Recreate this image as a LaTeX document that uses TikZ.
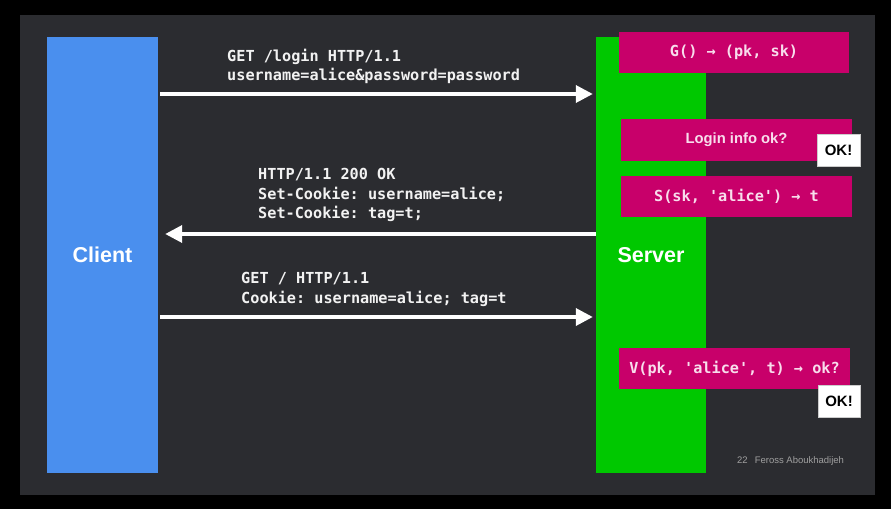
\documentclass[tikz,border=0pt]{standalone}
\usepackage{fontspec}
\setmainfont{Liberation Sans}
\newfontfamily\codefont{DejaVu Sans Mono}
\usetikzlibrary{arrows.meta}
\frenchspacing
\definecolor{slidebg}{HTML}{2B2C30}
\definecolor{clientblue}{HTML}{4A8FEE}
\definecolor{servergreen}{HTML}{00C800}
\definecolor{magbox}{HTML}{C8006A}
\definecolor{pinktext}{HTML}{F8DDEC}
\definecolor{codewhite}{HTML}{F2F2F2}
\definecolor{footgray}{HTML}{A0A0A0}
\tikzset{
  party/.style={inner sep=0pt, text=white, font=\fontsize{21.5}{24}\selectfont\bfseries},
  magstep/.style={fill=magbox, inner sep=0pt, minimum height=41pt, text=pinktext, font=\codefont\fontsize{15.2}{18}\selectfont\bfseries},
  okbox/.style={fill=white, draw=gray!40, inner sep=0pt, minimum width=43pt, minimum height=32pt, text=black, font=\fontsize{15}{18}\selectfont\bfseries},
  codeline/.style={anchor=base west, inner sep=0pt, text=codewhite, font=\codefont\fontsize{15.2}{18}\selectfont\bfseries},
  msg/.style={draw=white, line width=3.5pt, -{Triangle[length=17pt,width=17pt]}},
}
\begin{document}
\begin{tikzpicture}[x=1pt,y=-1pt]
\fill[black] (0,0) rectangle (891,509);
\useasboundingbox (0,0) rectangle (891,509);
\fill[slidebg] (20,15) rectangle (875,495);
% parties
\node[party, fill=clientblue, minimum width=111pt, minimum height=436pt] (client) at (102.5,255) {Client};
\node[party, fill=servergreen, minimum width=110pt, minimum height=436pt] (server) at (651,255) {Server};
% server steps
\node[magstep, minimum width=230pt] (gen) at (734,52.5) {G() → (pk, sk)};
\node[magstep, minimum width=231pt, minimum height=42pt, font=\fontsize{14.8}{17}\selectfont\bfseries, text=pinktext] (login) at (736.5,140) {Login info ok?};
\node[okbox] (ok1) at (838.5,150) {OK!};
\node[magstep, minimum width=231pt] (sign) at (736.5,196.5) {S(sk, 'alice') → t};
\node[magstep, minimum width=231pt] (verify) at (734.5,368.5) {V(pk, 'alice', t) → ok?};
\node[okbox, minimum width=42pt] (ok2) at (839,401) {OK!};
% messages
\coordinate (m1) at (0,94);
\coordinate (m2) at (0,234);
\coordinate (m3) at (0,317);
\draw[msg] ([xshift=2pt]client.east |- m1) -- ([xshift=-3pt]server.west |- m1);
\draw[msg] (server.west |- m2) -- ([xshift=7pt]client.east |- m2);
\draw[msg] ([xshift=2pt]client.east |- m3) -- ([xshift=-3pt]server.west |- m3);
% message texts
\node[codeline] (t1a) at (227,61) {GET /login HTTP/1.1};
\node[codeline] (t1b) at (227,80) {username=alice\&password=password};
\node[codeline] (t2a) at (258,179) {HTTP/1.1 200 OK};
\node[codeline] (t2b) at (258,199) {Set-Cookie: username=alice;};
\node[codeline] (t2c) at (258,218) {Set-Cookie: tag=t;};
\node[codeline] (t3a) at (241,283) {GET / HTTP/1.1};
\node[codeline] (t3b) at (241,303) {Cookie: username=alice; tag=t};
% footer
\node[anchor=base west, inner sep=0pt, text=footgray, font=\fontsize{9.5}{11}\selectfont] (foot) at (737,463) {22\hspace{7pt}Feross Aboukhadijeh};
\end{tikzpicture}
\end{document}
